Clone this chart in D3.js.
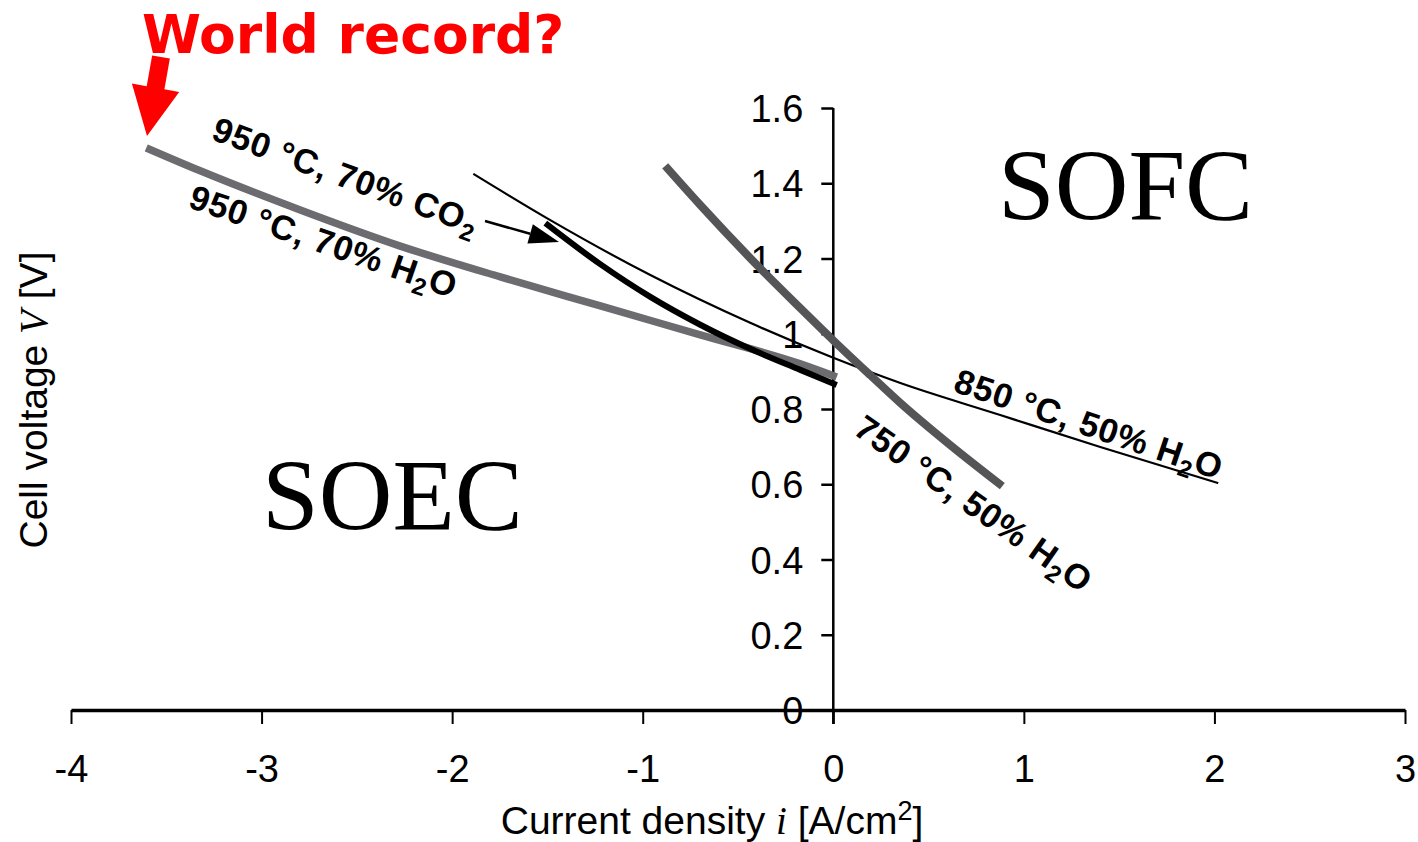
<!DOCTYPE html>
<html>
<head>
<meta charset="utf-8">
<script src="https://cdn.jsdelivr.net/npm/d3@7"></script>
<style>
  html, body { margin: 0; padding: 0; background: #fff; }
  svg { display: block; }
</style>
</head>
<body>
<svg id="chart" width="1418" height="842"></svg>
<script>
// ---------- data (current density i [A/cm2], cell voltage V [V]) ----------
const xTicks = [-4, -3, -2, -1, 0, 1, 2, 3];
const yTicks = [0, 0.2, 0.4, 0.6, 0.8, 1.0, 1.2, 1.4, 1.6];

const h2o950_i = [-3.605, -3.322, -2.797, -2.272, -1.747, -1.222, -0.698, -0.173, 0.018];
const h2o950_v = [1.494, 1.433, 1.329, 1.233, 1.151, 1.074, 0.997, 0.920, 0.885];

const co2950_i = [-1.511, -1.223, -0.960, -0.698, -0.436, -0.173, 0.018];
const co2950_v = [1.294, 1.185, 1.098, 1.024, 0.960, 0.904, 0.864];

const h2o850_i = [-1.889, -1.485, -0.960, -0.436, 0.0, 0.352, 0.876, 1.401, 2.020];
const h2o850_v = [1.425, 1.302, 1.156, 1.029, 0.936, 0.869, 0.784, 0.699, 0.603];

const h2o750_i = [-0.882, -0.698, -0.436, -0.173, 0.005, 0.194, 0.352, 0.614, 0.887];
const h2o750_v = [1.446, 1.342, 1.201, 1.068, 0.980, 0.890, 0.816, 0.704, 0.595];

const zip = (a, b) => a.map((d, k) => [d, b[k]]);

// ---------- layout ----------
const svg = d3.select("#chart");
const x = d3.scaleLinear().domain([-4, 3]).range([71, 1405]);
const y = d3.scaleLinear().domain([0, 1.6]).range([710, 108]);
const sans = "'Liberation Sans', Arial, Helvetica, sans-serif";
const serif = "'Liberation Serif', 'Times New Roman', serif";

svg.append("rect").attr("width", 1418).attr("height", 842).attr("fill", "#fff");

// ---------- axes ----------
const xAxis = svg.append("g")
  .attr("transform", `translate(0,${y(0)})`)
  .call(d3.axisBottom(x).tickValues(xTicks).tickSize(14).tickSizeOuter(0).tickFormat(d3.format("d")));
xAxis.select(".domain").attr("stroke", "#000").attr("stroke-width", 3.5);
xAxis.selectAll(".tick line").attr("stroke", "#000").attr("stroke-width", 2);
xAxis.selectAll(".tick text")
  .attr("y", 72).attr("dy", 0)
  .attr("font-family", sans).attr("font-size", 38).attr("fill", "#000")
  .text(d => d < 0 ? "-" + Math.abs(d) : d);

const yAxis = svg.append("g")
  .attr("transform", `translate(${x(0)},0)`)
  .call(d3.axisLeft(y).tickValues(yTicks).tickSize(12).tickSizeOuter(0)
    .tickFormat(d => d === 0 ? "0" : (Number.isInteger(d) ? d : d.toFixed(1))));
yAxis.select(".domain").remove();
yAxis.append("line")
  .attr("x1", 0).attr("x2", 0)
  .attr("y1", y(1.6)).attr("y2", y(0) + 14)
  .attr("stroke", "#000").attr("stroke-width", 2.5);
yAxis.selectAll(".tick line").attr("stroke", "#000").attr("stroke-width", 2.5);
yAxis.selectAll(".tick text")
  .attr("x", -30).attr("dy", "0.36em")
  .attr("font-family", sans).attr("font-size", 38).attr("fill", "#000");

// axis titles
const xt = svg.append("text")
  .attr("x", 712).attr("y", 834)
  .attr("text-anchor", "middle")
  .attr("font-family", sans).attr("font-size", 39).attr("fill", "#000");
xt.append("tspan").text("Current density ");
xt.append("tspan").attr("font-family", serif).attr("font-style", "italic").text("i");
xt.append("tspan").text(" [A/cm");
xt.append("tspan").attr("font-size", 27).attr("dy", -14).text("2");
xt.append("tspan").attr("dy", 14).text("]");

const yt = svg.append("text")
  .attr("transform", `translate(47,400) rotate(-90)`)
  .attr("text-anchor", "middle")
  .attr("font-family", sans).attr("font-size", 39).attr("fill", "#000");
yt.append("tspan").text("Cell voltage ");
yt.append("tspan").attr("font-family", serif).attr("font-style", "italic").text("V");
yt.append("tspan").text(" [V]");

// ---------- curves ----------
const line = d3.line().x(d => x(d[0])).y(d => y(d[1])).curve(d3.curveMonotoneX);

svg.append("path").datum(zip(h2o850_i, h2o850_v))
  .attr("d", line).attr("fill", "none").attr("stroke", "#000").attr("stroke-width", 2.2);

svg.append("path").datum(zip(h2o950_i, h2o950_v))
  .attr("d", line).attr("fill", "none").attr("stroke", "#6c6b6f").attr("stroke-width", 7.5);

svg.append("path").datum(zip(co2950_i, co2950_v))
  .attr("d", line).attr("fill", "none").attr("stroke", "#000").attr("stroke-width", 6);

svg.append("path").datum(zip(h2o750_i, h2o750_v))
  .attr("d", line).attr("fill", "none").attr("stroke", "#555557").attr("stroke-width", 8);

// ---------- curve labels ----------
function curveLabel(px, py, angle, main, sub, tail) {
  const t = svg.append("text")
    .attr("transform", `translate(${px},${py}) rotate(${angle})`)
    .attr("font-family", sans).attr("font-weight", "bold")
    .attr("font-size", 34.5).attr("letter-spacing", 0.8).attr("fill", "#000");
  t.append("tspan").text(main);
  t.append("tspan").attr("font-size", 24).attr("dy", 8).text(sub);
  if (tail) t.append("tspan").attr("dy", -8).text(tail);
}
curveLabel(210, 139, 20, "950 °C, 70% CO", "2", "");
curveLabel(187, 207, 19, "950 °C, 70% H", "2", "O");
curveLabel(952, 391, 18.5, "850 °C, 50% H", "2", "O");
curveLabel(852, 433, 35, "750 °C, 50% H", "2", "O");

// arrow pointing to CO2 curve
{
  const x0 = 485, y0 = 221, x1 = 559, y1 = 242;
  const dx = x1 - x0, dy = y1 - y0, L = Math.hypot(dx, dy);
  const ux = dx / L, uy = dy / L, px = -uy, py = ux;
  const hl = 30, hw = 10;
  const bx = x1 - ux * hl, by = y1 - uy * hl;
  svg.append("line").attr("x1", x0).attr("y1", y0).attr("x2", bx).attr("y2", by)
    .attr("stroke", "#000").attr("stroke-width", 2.5);
  svg.append("path")
    .attr("d", `M${x1},${y1}L${bx + px * hw},${by + py * hw}L${bx - px * hw},${by - py * hw}Z`)
    .attr("fill", "#000");
}

// ---------- region labels ----------
svg.append("text").attr("x", 998).attr("y", 220)
  .attr("font-family", serif).attr("font-size", 102).attr("fill", "#000").text("SOFC");
svg.append("text").attr("x", 262).attr("y", 530)
  .attr("font-family", serif).attr("font-size", 102).attr("fill", "#000").text("SOEC");

// ---------- world record annotation ----------
svg.append("text").attr("x", 142).attr("y", 53)
  .attr("font-family", "'DejaVu Sans', Verdana, sans-serif").attr("font-weight", "bold")
  .attr("font-size", 53.5).attr("fill", "#ff0000").text("World record?");
{
  const sx = 161, sy = 57, tx = 147, ty = 136;
  const dx = tx - sx, dy = ty - sy, L = Math.hypot(dx, dy);
  const ux = dx / L, uy = dy / L, px = -uy, py = ux;
  const sw = 9, hw = 24, hl = 49;
  const bx = tx - ux * hl, by = ty - uy * hl;
  const pts = [
    [sx + px * sw, sy + py * sw], [bx + px * sw, by + py * sw], [bx + px * hw, by + py * hw],
    [tx, ty],
    [bx - px * hw, by - py * hw], [bx - px * sw, by - py * sw], [sx - px * sw, sy - py * sw]
  ];
  svg.append("path").attr("d", "M" + pts.map(p => p.join(",")).join("L") + "Z").attr("fill", "#ff0000");
}
</script>
</body>
</html>
